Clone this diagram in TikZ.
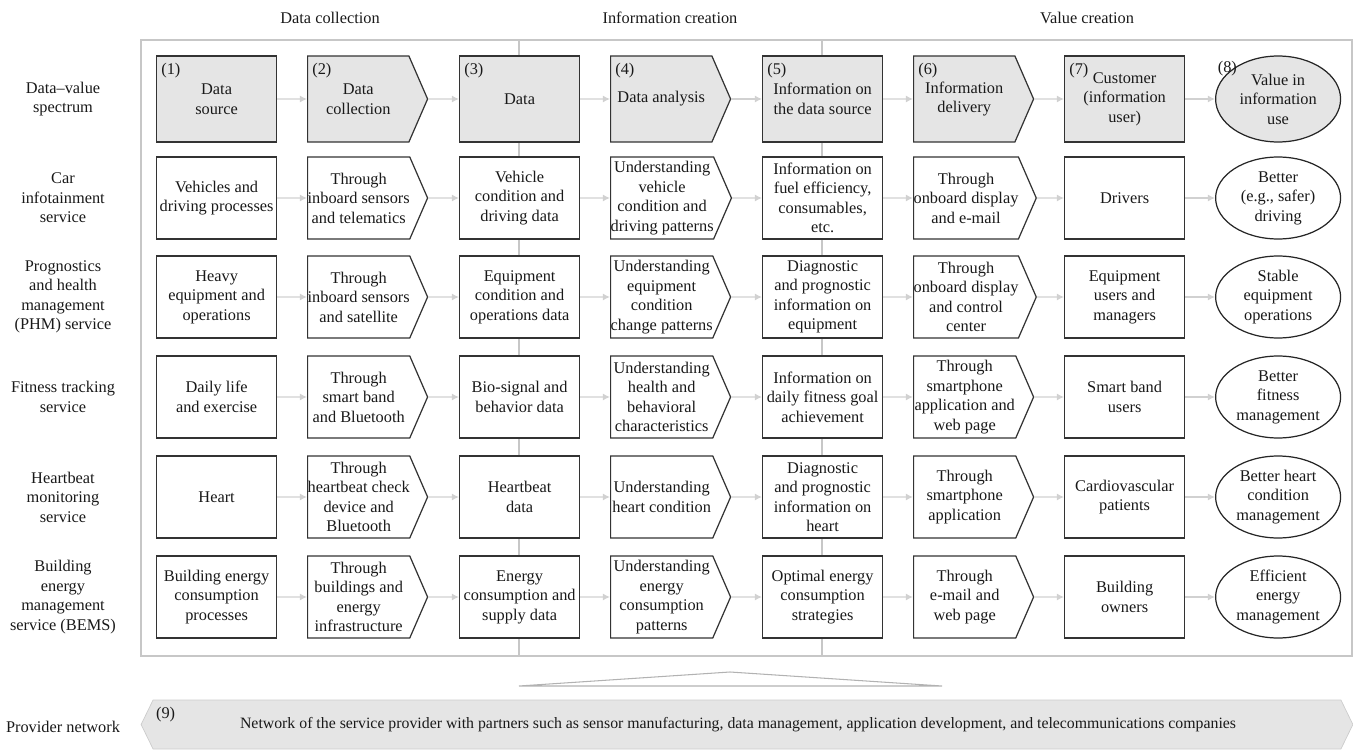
\documentclass[tikz,border=0pt]{standalone}
\usepackage{fontspec}
\setmainfont{Liberation Serif}
\usetikzlibrary{shapes.symbols,shapes.geometric,arrows.meta,positioning}

\begin{document}
\begin{tikzpicture}[
    x=0.02cm, y=-0.02cm,
    every node/.style={font=\fontsize{9.3}{11.1}\selectfont, text=black!90, align=center},
    box/.style={rectangle, draw=black!80, fill=white, line width=0.7pt, minimum width=2.4cm, minimum height=1.64cm, inner sep=0pt, anchor=west},
    pbox/.style={signal, signal to=east, signal pointer angle=133, draw=black!80, fill=white, line width=0.7pt, minimum width=2.4cm, minimum height=1.64cm, inner sep=0pt, anchor=west},
    vbox/.style={ellipse, draw=black!85, fill=white, line width=0.7pt, minimum width=2.5cm, minimum height=1.64cm, inner sep=0pt, anchor=west},
    head/.style={fill=black!10, minimum height=1.72cm},
    num/.style={label={[anchor=north west, inner sep=0pt, xshift=0.1cm, yshift=-0.14cm]north west:(#1)}},
    flow/.style={-{Latex[length=4pt, width=4pt]}, draw=black!18, line width=0.8pt},
    frame/.style={draw=black!22, line width=1pt},
    divider/.style={draw=black!22, line width=0.6pt}
]
    \useasboundingbox (0,0) rectangle (1353,750);

    % Phase headings
    \node (dc) at (330,18) {Data collection};
    \node (ic) at (670,18) {Information creation};
    \node (vc) at (1087,18) {Value creation};

    % Frame and phase dividers
    \draw[frame] (141,40) rectangle (1352,656);
    \draw[divider] (519,40) -- (519,656);
    \draw[divider] (822,40) -- (822,656);

    % Row labels
    \node (ls) at (63,99) {Data–value\\spectrum};
    \node (lc) at (63,198) {Car\\infotainment\\service};
    \node (lp) at (63,297) {Prognostics\\and health\\management\\(PHM) service};
    \node (lf) at (63,397) {Fitness tracking\\service};
    \node (lh) at (63,497) {Heartbeat\\monitoring\\service};
    \node (le) at (63,597) {Building\\energy\\management\\service (BEMS)};
    \node (ln) at (63,727) {Provider network};

    % Data-value spectrum
    \node[box, head, num=1] (s1) at (156,99) {Data\\source};
    \node[pbox, head, num=2] (s2) at (307,99) {Data\\collection};
    \node[box, head, num=3] (s3) at (459,99) {Data};
    \node[pbox, head, num=4] (s4) at (610,99) {Data analysis};
    \node[box, head, num=5] (s5) at (762,99) {Information on\\the data source};
    \node[pbox, head, num=6] (s6) at (913,99) {Information\\delivery};
    \node[box, head, num=7] (s7) at (1064,99) {Customer\\(information\\user)};
    \node[vbox, head, label={[anchor=north west, inner sep=0pt, xshift=-0.32cm, yshift=0.14cm]north west:(8)}] (s8) at (1215,99) {Value in\\information\\use};

    % Car infotainment
    \node[box] (c1) at (156,198) {Vehicles and\\driving processes};
    \node[pbox] (c2) at (307,198) {Through\\inboard sensors\\and telematics};
    \node[box] (c3) at (459,198) {Vehicle\\condition and\\driving data};
    \node[pbox] (c4) at (610,198) {Understanding\\vehicle\\condition and\\driving patterns};
    \node[box] (c5) at (762,198) {Information on\\fuel efficiency,\\consumables,\\etc.};
    \node[pbox] (c6) at (913,198) {Through\\onboard display\\and e-mail};
    \node[box] (c7) at (1064,198) {Drivers};
    \node[vbox] (c8) at (1215,198) {Better\\(e.g., safer)\\driving};

    % PHM
    \node[box] (p1) at (156,297) {Heavy\\equipment and\\operations};
    \node[pbox] (p2) at (307,297) {Through\\inboard sensors\\and satellite};
    \node[box] (p3) at (459,297) {Equipment\\condition and\\operations data};
    \node[pbox] (p4) at (610,297) {Understanding\\equipment\\condition\\change patterns};
    \node[box] (p5) at (762,297) {Diagnostic\\and prognostic\\information on\\equipment};
    \node[pbox] (p6) at (913,297) {Through\\onboard display\\and control\\center};
    \node[box] (p7) at (1064,297) {Equipment\\users and\\managers};
    \node[vbox] (p8) at (1215,297) {Stable\\equipment\\operations};

    % Fitness tracking
    \node[box] (f1) at (156,397) {Daily life\\and exercise};
    \node[pbox] (f2) at (307,397) {Through\\smart band\\and Bluetooth};
    \node[box] (f3) at (459,397) {Bio-signal and\\behavior data};
    \node[pbox] (f4) at (610,397) {Understanding\\health and\\behavioral\\characteristics};
    \node[box] (f5) at (762,397) {Information on\\daily fitness goal\\achievement};
    \node[pbox] (f6) at (913,397) {Through\\smartphone\\application and\\web page};
    \node[box] (f7) at (1064,397) {Smart band\\users};
    \node[vbox] (f8) at (1215,397) {Better\\fitness\\management};

    % Heartbeat monitoring
    \node[box] (h1) at (156,497) {Heart};
    \node[pbox] (h2) at (307,497) {Through\\heartbeat check\\device and\\Bluetooth};
    \node[box] (h3) at (459,497) {Heartbeat\\data};
    \node[pbox] (h4) at (610,497) {Understanding\\heart condition};
    \node[box] (h5) at (762,497) {Diagnostic\\and prognostic\\information on\\heart};
    \node[pbox] (h6) at (913,497) {Through\\smartphone\\application};
    \node[box] (h7) at (1064,497) {Cardiovascular\\patients};
    \node[vbox] (h8) at (1215,497) {Better heart\\condition\\management};

    % BEMS
    \node[box] (e1) at (156,597) {Building energy\\consumption\\processes};
    \node[pbox] (e2) at (307,597) {Through\\buildings and\\energy\\infrastructure};
    \node[box] (e3) at (459,597) {Energy\\consumption and\\supply data};
    \node[pbox] (e4) at (610,597) {Understanding\\energy\\consumption\\patterns};
    \node[box] (e5) at (762,597) {Optimal energy\\consumption\\strategies};
    \node[pbox] (e6) at (913,597) {Through\\e-mail and\\web page};
    \node[box] (e7) at (1064,597) {Building\\owners};
    \node[vbox] (e8) at (1215,597) {Efficient\\energy\\management};

    % Arrows - spectrum row
    \draw[flow] (s1) -- (s2); \draw[flow] (s2) -- (s3); \draw[flow] (s3) -- (s4); \draw[flow] (s4) -- (s5);
    \draw[flow] (s5) -- (s6); \draw[flow] (s6) -- (s7); \draw[flow] (s7) -- (s8);
    % Arrows - car infotainment
    \draw[flow] (c1) -- (c2); \draw[flow] (c2) -- (c3); \draw[flow] (c3) -- (c4); \draw[flow] (c4) -- (c5);
    \draw[flow] (c5) -- (c6); \draw[flow] (c6) -- (c7); \draw[flow] (c7) -- (c8);
    % Arrows - PHM
    \draw[flow] (p1) -- (p2); \draw[flow] (p2) -- (p3); \draw[flow] (p3) -- (p4); \draw[flow] (p4) -- (p5);
    \draw[flow] (p5) -- (p6); \draw[flow] (p6) -- (p7); \draw[flow] (p7) -- (p8);
    % Arrows - fitness tracking
    \draw[flow] (f1) -- (f2); \draw[flow] (f2) -- (f3); \draw[flow] (f3) -- (f4); \draw[flow] (f4) -- (f5);
    \draw[flow] (f5) -- (f6); \draw[flow] (f6) -- (f7); \draw[flow] (f7) -- (f8);
    % Arrows - heartbeat monitoring
    \draw[flow] (h1) -- (h2); \draw[flow] (h2) -- (h3); \draw[flow] (h3) -- (h4); \draw[flow] (h4) -- (h5);
    \draw[flow] (h5) -- (h6); \draw[flow] (h6) -- (h7); \draw[flow] (h7) -- (h8);
    % Arrows - BEMS
    \draw[flow] (e1) -- (e2); \draw[flow] (e2) -- (e3); \draw[flow] (e3) -- (e4); \draw[flow] (e4) -- (e5);
    \draw[flow] (e5) -- (e6); \draw[flow] (e6) -- (e7); \draw[flow] (e7) -- (e8);

    % Provider network
    \draw[black!30, line width=0.6pt] (519,686) -- (730,672) -- (942,686) -- cycle;
    \node[signal, signal to=west and east, signal pointer angle=128, draw=black!20, fill=black!10,
          minimum width=24.24cm, minimum height=0.98cm, inner sep=0pt,
          font=\fontsize{9}{11}\selectfont,
          label={[anchor=north west, inner sep=0pt, xshift=0.06cm, yshift=-0.14cm, font=\fontsize{9.3}{11.1}\selectfont]north west:(9)}]
        (pn) at (747,724.5) {Network of the service provider with partners such as sensor manufacturing, data management, application development, and telecommunications companies\hspace*{0.36cm}};
\end{tikzpicture}
\end{document}
